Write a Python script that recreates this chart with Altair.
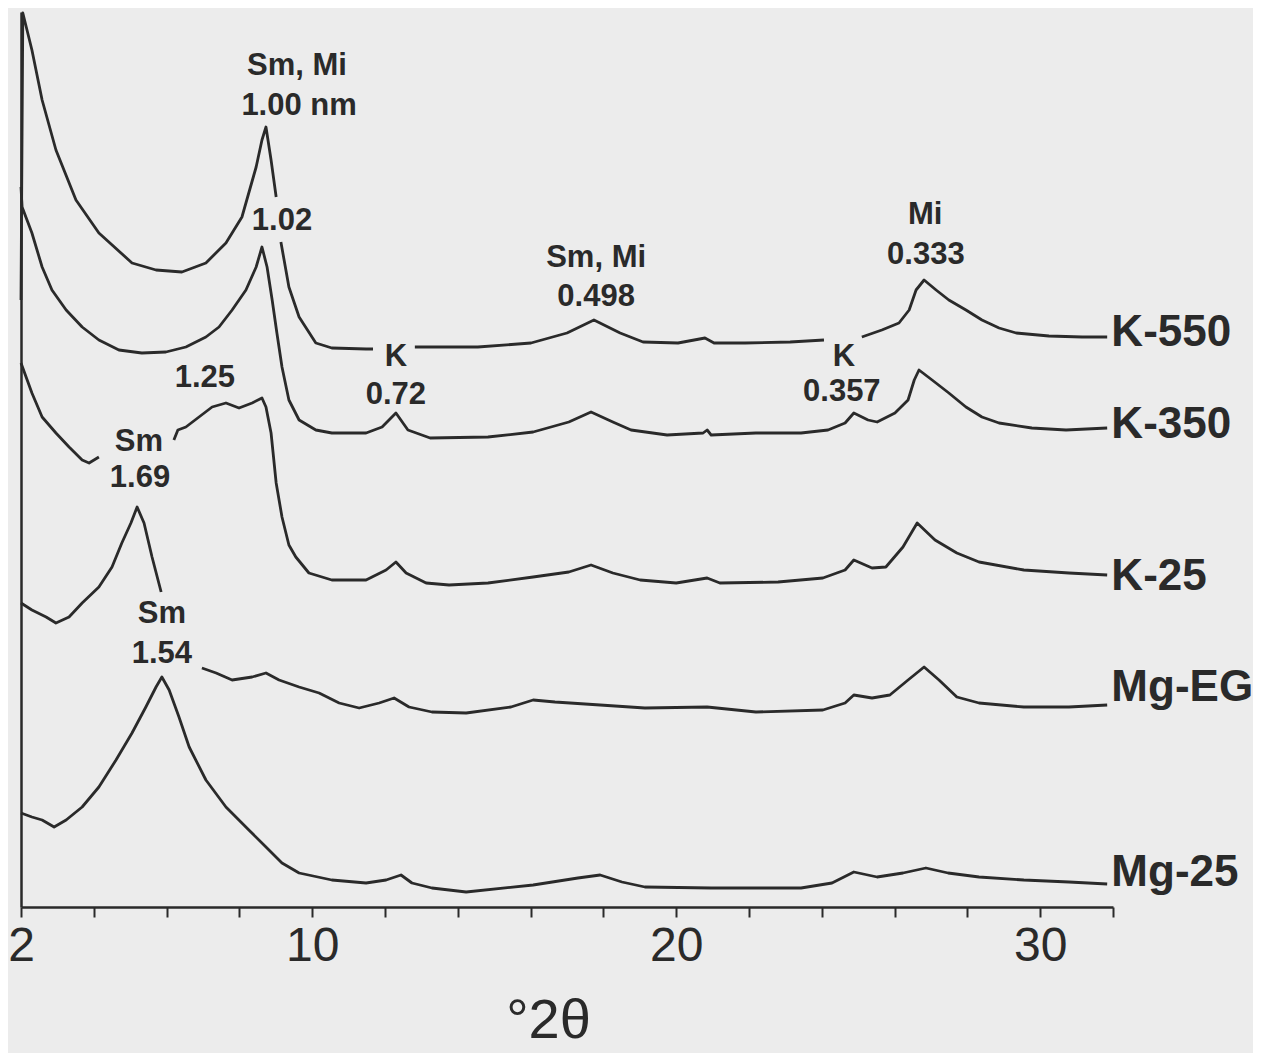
import altair as alt
import pandas as pd

# ---------------- data (x in degrees 2-theta, y in relative intensity incl. offset) ----
k550_x = [2.0, 2.05, 2.30, 2.58, 2.96, 3.51, 4.14, 5.05, 5.71, 6.42, 7.08, 7.63, 8.07, 8.46, 8.62, 8.73, 8.87, 9.01,
          9.14, 9.36, 9.64, 10.10, 10.54, 11.48, 11.67,
          12.82, 14.55, 16.01, 17.00, 17.74, 18.46, 19.09, 20.05, 20.79, 21.04, 21.89, 23.13, 24.06,
          25.10, 25.65, 26.12, 26.40, 26.59, 26.81, 27.14, 27.49, 27.96, 28.40, 28.87, 29.34, 30.24, 31.15, 31.84]
k550_y = [60.7, 89.4, 85.7, 80.7, 75.7, 70.7, 67.4, 64.4, 63.7, 63.5, 64.4, 66.4, 69.0, 74.0, 76.7, 78.0, 74.7, 71.0,
          66.5, 62.0, 59.0, 56.4, 55.9, 55.8, 55.8,
          56.0, 56.0, 56.4, 57.4, 58.7, 57.4, 56.5, 56.4, 56.9, 56.4, 56.4, 56.5, 56.7,
          57.0, 57.7, 58.4, 59.7, 61.7, 62.7, 61.7, 60.7, 59.7, 58.7, 57.9, 57.4, 57.1, 57.0, 57.0]
k550_breaks = [9.08, 12.2, 24.6]

k350_x = [2.0, 2.03, 2.30, 2.58, 2.85, 3.24, 3.68, 4.14, 4.69, 5.32, 5.98, 6.53, 7.08, 7.44, 7.80, 8.18, 8.46,
          8.62, 8.76, 8.90, 9.03, 9.17, 9.36, 9.64, 10.10, 10.54, 11.48, 11.92, 12.30, 12.63, 13.24, 14.83,
          16.07, 17.05, 17.66, 18.26, 18.76, 19.75, 20.74, 20.85, 20.96, 22.19, 23.43, 24.17, 24.64, 24.88,
          25.27, 25.52, 26.01, 26.37, 26.54, 26.67, 27.03, 27.49, 27.96, 28.40, 28.87, 29.77, 30.71, 31.84]
k350_y = [72.0, 70.0, 67.4, 64.0, 61.7, 59.7, 58.0, 56.7, 55.7, 55.4, 55.5, 56.0, 57.0, 58.0, 59.7, 61.7, 64.0,
          66.0, 64.0, 60.7, 57.4, 54.0, 50.7, 48.7, 47.7, 47.4, 47.4, 48.0, 49.4, 47.7, 46.9, 47.0,
          47.5, 48.5, 49.5, 48.5, 47.7, 47.2, 47.4, 47.7, 47.2, 47.4, 47.4, 47.7, 48.4, 49.4,
          48.7, 48.5, 49.4, 50.7, 52.7, 53.7, 52.7, 51.4, 50.0, 49.0, 48.4, 47.9, 47.7, 47.9]
k350_breaks = []

k25_x = [2.0, 2.30, 2.58, 2.96, 3.32, 3.68, 3.87, 4.14,
         6.20, 6.31, 6.53, 6.89, 7.25, 7.63, 7.99, 8.35, 8.62, 8.73, 8.87, 9.01, 9.17, 9.36, 9.55, 9.91,
         10.54, 11.48, 12.03, 12.30, 12.58, 13.13, 13.76, 14.83, 16.07, 17.05, 17.66, 18.26, 19.01, 20.0,
         20.85, 21.20, 22.80, 24.03, 24.64, 24.88, 25.38, 25.76, 26.23, 26.62, 27.11, 27.71, 28.32, 29.55,
         30.79, 31.84]
k25_y = [54.4, 51.4, 49.0, 47.4, 46.0, 44.7, 44.4, 45.0,
         46.7, 47.7, 48.0, 49.0, 50.0, 50.4, 49.9, 50.4, 50.9, 50.0, 47.4, 42.4, 39.0, 36.2, 35.0, 33.4,
         32.7, 32.7, 33.7, 34.5, 33.4, 32.4, 32.2, 32.4, 33.0, 33.5, 34.2, 33.4, 32.7, 32.4,
         32.9, 32.4, 32.5, 32.9, 33.7, 34.7, 33.9, 34.0, 36.0, 38.4, 36.7, 35.4, 34.5, 33.7,
         33.4, 33.2]
k25_breaks = [5.0]

mgeg_x = [2.0, 2.30, 2.69, 2.96, 3.32, 3.68, 4.14, 4.50, 4.77, 5.02, 5.19, 5.38, 5.60, 5.85,
          6.97, 7.36, 7.80, 8.35, 8.73, 9.09, 9.64, 10.19, 10.74, 11.29, 11.84, 12.25, 12.66, 13.29,
          14.23, 15.46, 16.07, 16.67, 17.91, 19.14, 20.85, 22.19, 24.03, 24.64, 24.88, 25.38, 25.87,
          26.37, 26.81, 27.22, 27.71, 28.32, 29.55, 30.79, 31.84]
mgeg_y = [30.4, 29.7, 29.0, 28.4, 29.0, 30.4, 32.0, 34.0, 36.4, 38.4, 40.0, 38.4, 35.0, 31.5,
          23.9, 23.4, 22.7, 23.0, 23.4, 22.7, 22.0, 21.4, 20.4, 19.9, 20.4, 20.9, 20.0, 19.5,
          19.4, 20.0, 20.7, 20.5, 20.2, 19.9, 20.0, 19.5, 19.7, 20.4, 21.2, 20.9, 21.2,
          22.7, 24.0, 22.7, 21.0, 20.4, 20.0, 20.0, 20.2]
mgeg_breaks = [6.4]

mg25_x = [2.0, 2.30, 2.58, 2.91, 3.24, 3.68, 4.14, 4.61, 5.05, 5.43, 5.71, 5.87, 6.07, 6.34, 6.62, 7.08,
          7.63, 8.26, 8.73, 9.17, 9.64, 10.54, 11.48, 12.03, 12.44, 12.74, 13.29, 14.23, 16.07, 17.30,
          17.91, 18.51, 19.14, 20.96, 23.43, 24.28, 24.88, 25.52, 26.23, 26.86, 27.47, 28.32, 29.55,
          30.79, 31.84]
mg25_y = [9.4, 9.0, 8.7, 8.0, 8.7, 10.0, 12.0, 14.7, 17.4, 20.0, 22.0, 23.0, 21.7, 19.0, 16.0, 12.7,
          10.0, 7.7, 6.0, 4.4, 3.4, 2.7, 2.4, 2.7, 3.2, 2.4, 1.9, 1.5, 2.2, 2.9,
          3.2, 2.5, 2.0, 1.9, 1.9, 2.4, 3.5, 3.0, 3.4, 3.9, 3.4, 3.0, 2.7,
          2.5, 2.3]
mg25_breaks = []

series_names = ["K-550", "K-350", "K-25", "Mg-EG", "Mg-25"]
series_label_y = [57.4, 48.2, 33.0, 21.9, 3.4]

ann_text = ["Sm, Mi", "1.00 nm", "1.02", "1.25", "Sm", "1.69", "Sm", "1.54",
            "K", "0.72", "Sm, Mi", "0.498", "K", "0.357", "Mi", "0.333"]
ann_x = [9.58, 9.64, 9.17, 7.05, 5.24, 5.27, 5.87, 5.87,
         12.30, 12.30, 17.80, 17.80, 24.61, 24.55, 26.84, 26.86]
ann_y = [84.1, 80.1, 68.6, 52.9, 46.5, 42.9, 29.3, 25.3,
         55.0, 51.2, 64.9, 61.0, 55.0, 51.5, 69.2, 65.2]

tick_values = list(range(2, 33, 2))
tick_labels_shown = [2, 10, 20, 30]

# ---------------- build tables ----------------
all_series = [
    ("K-550", k550_x, k550_y, k550_breaks),
    ("K-350", k350_x, k350_y, k350_breaks),
    ("K-25", k25_x, k25_y, k25_breaks),
    ("Mg-EG", mgeg_x, mgeg_y, mgeg_breaks),
    ("Mg-25", mg25_x, mg25_y, mg25_breaks),
]
rows = []
for name, xs, ys, brks in all_series:
    for i, (xv, yv) in enumerate(zip(xs, ys)):
        seg = sum(1 for b in brks if b < xv)
        rows.append({"series": name, "seg": f"{name}-{seg}", "x": xv, "y": yv, "i": i})
df = pd.DataFrame(rows)

lab_df = pd.DataFrame({"name": series_names, "x": [31.9] * len(series_names), "y": series_label_y})
ann_df = pd.DataFrame({"t": ann_text, "x": ann_x, "y": ann_y})

INK = "#2a2a2a"
FONT = "Liberation Sans"

xscale = alt.Scale(domain=[2, 32], nice=False, zero=False)
yscale = alt.Scale(domain=[0, 89.5], nice=False, zero=False)

label_expr = "(" + "||".join(f"datum.value=={v}" for v in tick_labels_shown) + ")?datum.label:''"

x_axis = alt.Axis(values=tick_values, labelExpr=label_expr, tickSize=10, tickWidth=2, tickColor=INK,
                  domainColor=INK, domainWidth=2.5, labelFontSize=48, labelFont=FONT, labelColor=INK,
                  labelPadding=5, labelFlush=False, grid=False, title="°2θ", titleFont=FONT,
                  titleFontSize=56, titleFontWeight="normal", titleColor=INK, titleX=527, titleY=130,
                  titleAlign="center", titleBaseline="alphabetic")
y_axis = alt.Axis(labels=False, ticks=False, title=None, grid=False, domainColor=INK, domainWidth=2.5)

lines = alt.Chart(df).mark_line(color=INK, strokeWidth=2.8, strokeJoin="round").encode(
    x=alt.X("x:Q", scale=xscale, axis=x_axis),
    y=alt.Y("y:Q", scale=yscale, axis=y_axis),
    detail="seg:N",
    order="i:Q",
)

labels = alt.Chart(lab_df).mark_text(align="left", baseline="middle", font=FONT, fontSize=44,
                                     fontWeight="bold", color=INK, dx=2).encode(
    x=alt.X("x:Q", scale=xscale), y=alt.Y("y:Q", scale=yscale), text="name:N")

anns = alt.Chart(ann_df).mark_text(align="center", baseline="middle", font=FONT, fontSize=31,
                                   fontWeight="bold", color=INK).encode(
    x=alt.X("x:Q", scale=xscale), y=alt.Y("y:Q", scale=yscale), text="t:N")

chart = alt.layer(lines, labels, anns).properties(
    width=1092, height=895,
    autosize=alt.AutoSizeParams(type="none"),
    padding={"left": 13, "top": 4, "right": 140, "bottom": 146},
    background="#ececec",
).configure_view(stroke=None)

chart.save("out.html", embed_options={"renderer": "svg", "actions": False})
